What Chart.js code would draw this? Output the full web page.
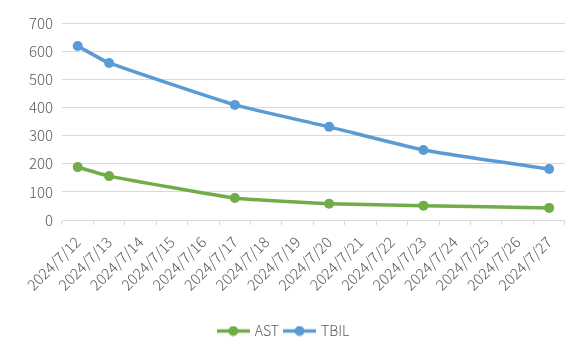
<!DOCTYPE html>
<html>
<head>
<meta charset="utf-8">
<script src="https://cdn.jsdelivr.net/npm/chart.js@4"></script>
<style>
  html, body { margin: 0; padding: 0; background: #fff; }
  #wrap { width: 570px; height: 354px; }
</style>
</head>
<body>
<div id="wrap"><canvas id="chart"></canvas></div>
<script>
const dates = ['2024/7/12', '2024/7/13', '2024/7/14', '2024/7/15', '2024/7/16', '2024/7/17',
  '2024/7/18', '2024/7/19', '2024/7/20', '2024/7/21', '2024/7/22', '2024/7/23',
  '2024/7/24', '2024/7/25', '2024/7/26', '2024/7/27']
const astValues = [188, 156, null, null, null, 78, null, null, 58, null, null, 51, null, null, null, 43]
const tbilValues = [618, 558, null, null, null, 409, null, null, 331, null, null, 249, null, null, null, 181]
const yTicks = [0, 100, 200, 300, 400, 500, 600, 700]

const green = '#70AD47'
const blue = '#5B9BD5'
const fontFamily = "'Noto Sans CJK SC', 'Liberation Sans', sans-serif"
const tickFont = { family: fontFamily, size: 15, weight: '300' }

function legendIcon(color) {
  const c = document.createElement('canvas')
  c.width = 33
  c.height = 11
  const ctx = c.getContext('2d')
  ctx.strokeStyle = color
  ctx.lineWidth = 3.5
  ctx.beginPath()
  ctx.moveTo(0, 5.5)
  ctx.lineTo(33, 5.5)
  ctx.stroke()
  ctx.fillStyle = color
  ctx.beginPath()
  ctx.arc(16.5, 5.5, 5, 0, Math.PI * 2)
  ctx.fill()
  return c
}

function lineSet(label, values, color) {
  return {
    label: label,
    data: values,
    borderColor: color,
    backgroundColor: color,
    borderWidth: 3.5,
    pointRadius: 5,
    pointHoverRadius: 5,
    pointBorderWidth: 0,
    tension: 0.15,
    spanGaps: true,
    pointStyle: 'circle'
  }
}

new Chart(document.getElementById('chart'), {
  type: 'line',
  data: {
    labels: dates,
    datasets: [
      lineSet('AST', astValues, green),
      lineSet('TBIL', tbilValues, blue)
    ]
  },
  options: {
    responsive: true,
    maintainAspectRatio: false,
    animation: false,
    layout: { padding: { left: 0, right: 2, top: 23, bottom: 6 } },
    plugins: {
      tooltip: { enabled: false },
      legend: {
        position: 'bottom',
        labels: {
          color: '#595959',
          font: { family: fontFamily, size: 14, weight: '300' },
          usePointStyle: true,
          pointStyleWidth: 29,
          boxHeight: 11,
          padding: 6,
          generateLabels: (chart) => chart.data.datasets.map((ds, i) => ({
            text: ds.label,
            fontColor: '#595959',
            pointStyle: legendIcon(ds.borderColor),
            datasetIndex: i,
            lineWidth: 0,
            strokeStyle: 'transparent',
            fillStyle: ds.borderColor
          }))
        }
      }
    },
    scales: {
      x: {
        offset: true,
        grid: {
          offset: true,
          drawOnChartArea: false,
          drawTicks: true,
          tickLength: 5,
          color: '#d9d9d9'
        },
        border: { color: '#d9d9d9', width: 1 },
        ticks: {
          color: '#595959',
          font: tickFont,
          minRotation: 45,
          maxRotation: 45,
          autoSkip: false,
          padding: 8
        },
        afterFit: (scale) => { scale.height = 98 }
      },
      y: {
        min: 0,
        max: 700,
        afterBuildTicks: (scale) => { scale.ticks = yTicks.map(v => ({ value: v })) },
        grid: { color: '#d9d9d9', drawTicks: false },
        border: { display: false },
        ticks: {
          color: '#595959',
          font: tickFont,
          padding: 9
        },
        afterFit: (scale) => { scale.width = 62 }
      }
    }
  }
})
</script>
</body>
</html>
